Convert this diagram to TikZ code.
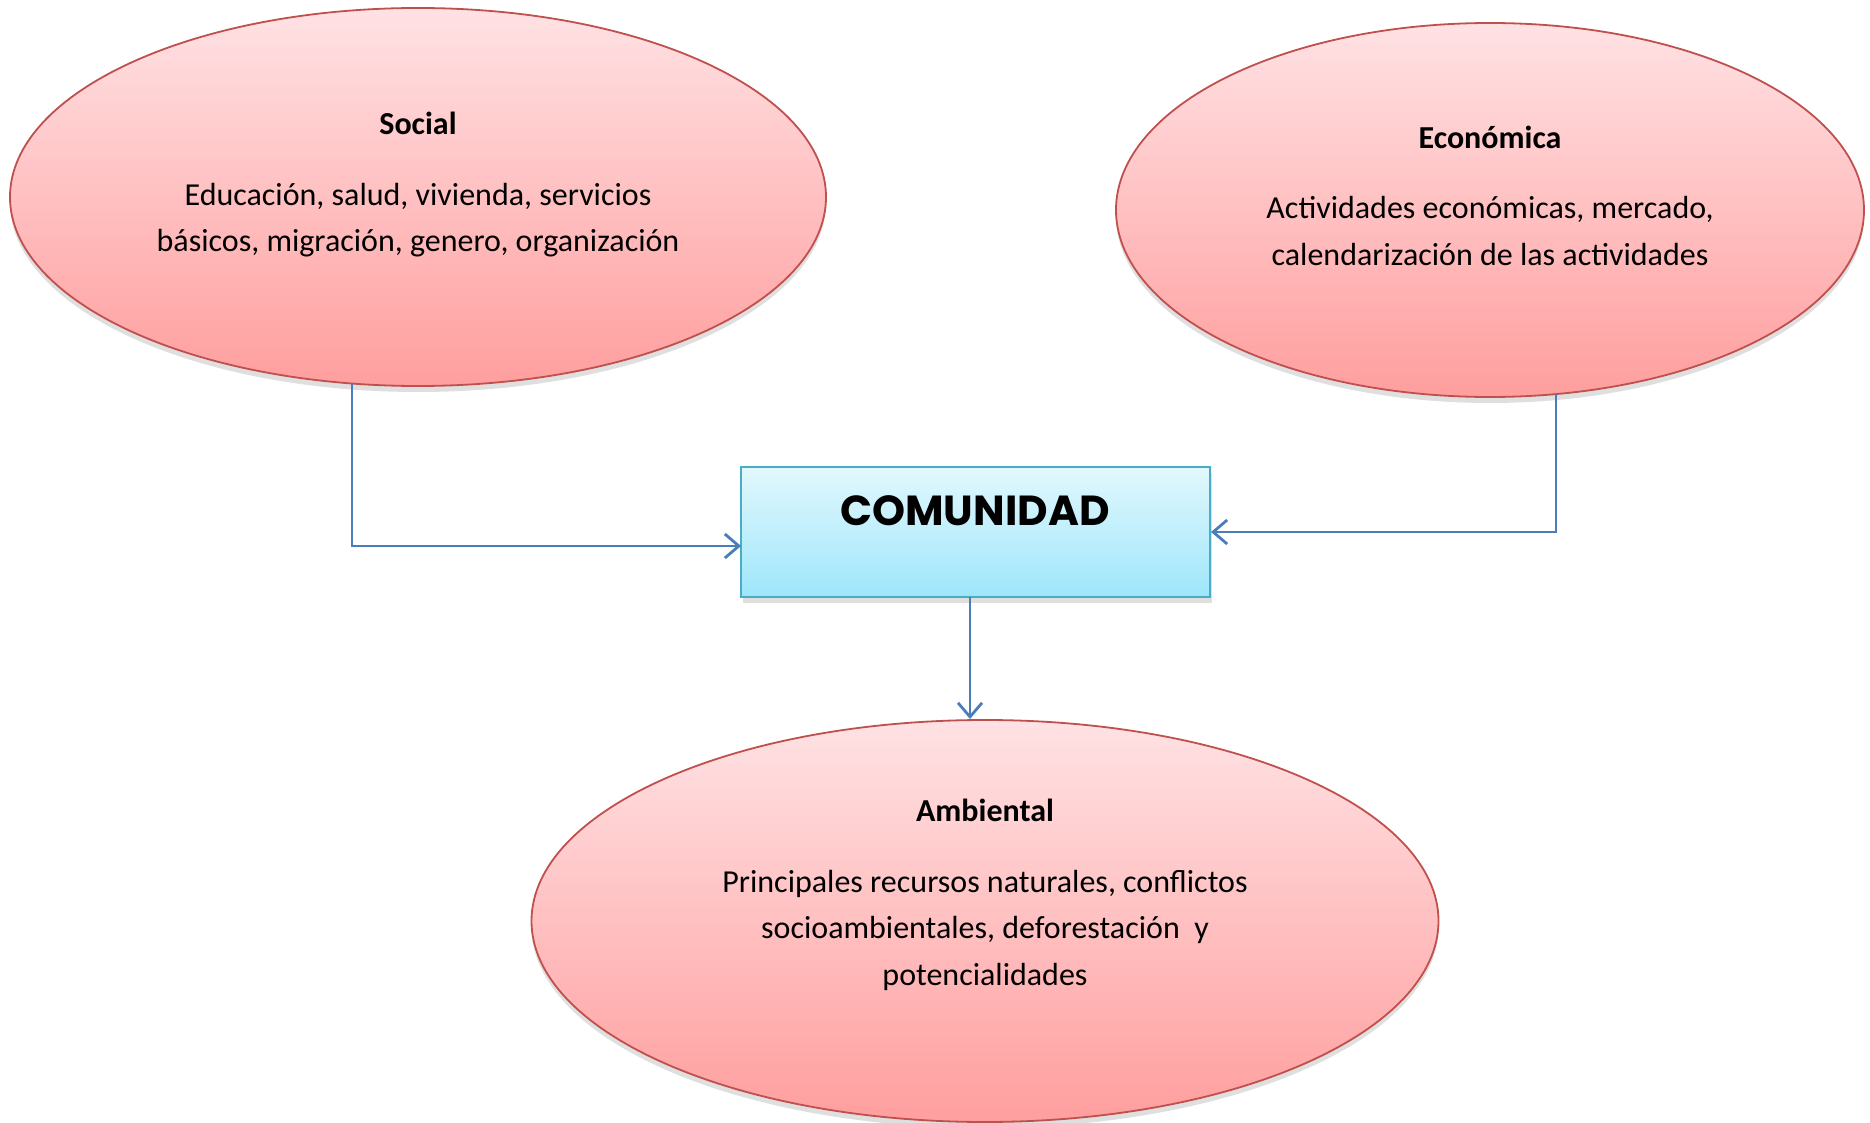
\documentclass[tikz,border=0pt]{standalone}
\usepackage{fontspec}
\setmainfont{Carlito}
\newfontfamily\titlefont{Poppins}
\usetikzlibrary{shapes.geometric,shadows,arrows.meta}
\definecolor{pinktop}{RGB}{255,226,228}
\definecolor{pinkbot}{RGB}{255,158,158}
\definecolor{ellred}{RGB}{192,80,77}
\definecolor{boxtop}{RGB}{226,248,253}
\definecolor{boxbot}{RGB}{158,230,251}
\definecolor{boxline}{RGB}{75,172,198}
\definecolor{arrblue}{RGB}{74,126,187}
\tikzset{
  ell/.style={ellipse, draw=ellred, line width=0.9pt, top color=pinktop, bottom color=pinkbot, inner sep=0pt,
    drop shadow={opacity=0.25, shadow xshift=0pt, shadow yshift=-3pt}},
  cbox/.style={rectangle, draw=boxline, line width=1pt, top color=boxtop, bottom color=boxbot, inner sep=0pt,
    drop shadow={opacity=0.25, shadow xshift=1pt, shadow yshift=-3pt}},
  ttl/.style={font=\fontsize{16}{23.25}\selectfont\bfseries, inner sep=0pt},
  body/.style={font=\fontsize{16}{23.25}\selectfont, align=center, inner sep=0pt},
  conn/.style={draw=arrblue, line width=1.4pt, -{Straight Barb[length=7pt,width=12pt,line width=1.4pt]}}
}
\begin{document}
\begin{tikzpicture}[x=0.5pt,y=-0.5pt]
\useasboundingbox[fill=white] (0,0) rectangle (1870,1123);
\node[ell, minimum width=408pt, minimum height=189pt] (social) at (418,197) {};
\node[ell, minimum width=374pt, minimum height=187pt] (econ) at (1490,210) {};
\node[ell, minimum width=453.5pt, minimum height=201pt] (amb) at (985,921) {};
\node[cbox, minimum width=234.5pt, minimum height=65pt] (box) at (975.5,532) {};

\node[ttl] (socialt) at (418,123) {Social};
\node[body] (socialb) at (418,220) {Educación, salud, vivienda, servicios\\básicos, migración, genero, organización};
\node[ttl] (econt) at (1490,137) {Económica};
\node[body] (econb) at (1490,231) {Actividades económicas, mercado,\\calendarización de las actividades};
\node[ttl] (ambt) at (985,810) {Ambiental};
\node[body] (ambb) at (985,930) {Principales recursos naturales, conflictos\\socioambientales, deforestación\ \ y\\potencialidades};
\node[font=\titlefont\bfseries\fontsize{21}{25}\selectfont, inner sep=0pt] (boxt) at (975,511) {COMUNIDAD};

\coordinate (s1) at (352,384);
\coordinate (s2) at (741,546);
\coordinate (e1) at (1556,394);
\coordinate (d1) at (970,597);
\coordinate (d2) at (970,719);
\draw[conn] (s1) |- (s2);
\draw[conn] (e1) |- (box.east);
\draw[conn] (d1) -- (d2);
\end{tikzpicture}
\end{document}
